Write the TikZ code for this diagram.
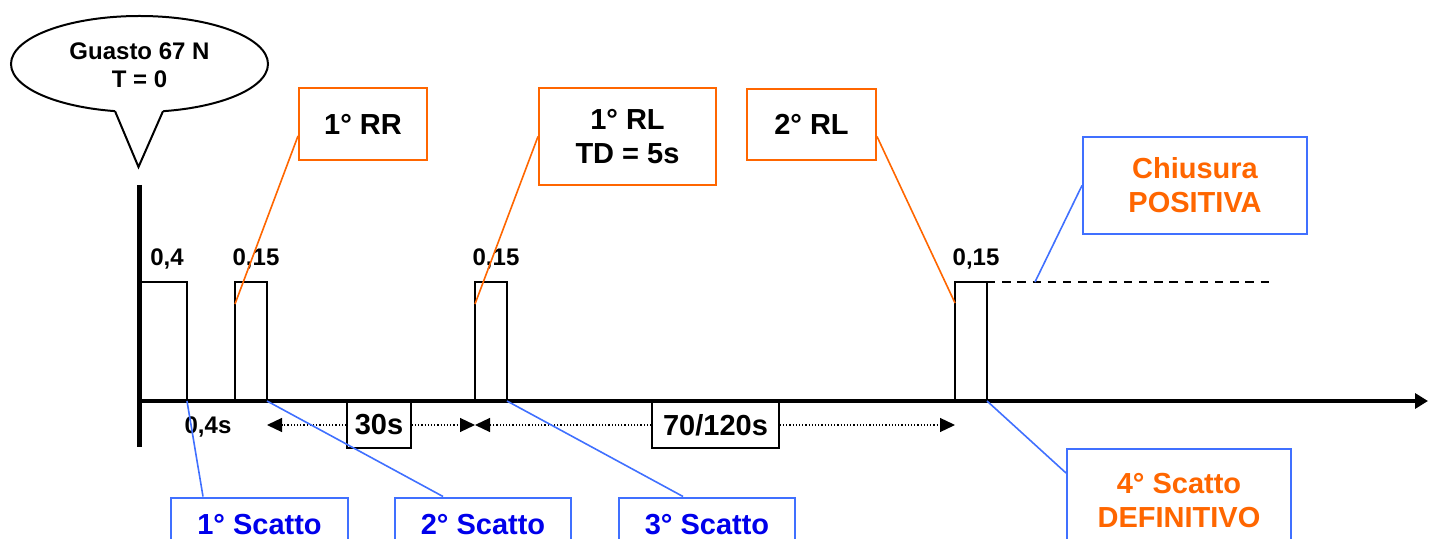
\documentclass[tikz,border=0pt]{standalone}
\usepackage{fontspec}
\setmainfont{Liberation Sans}
\usetikzlibrary{arrows.meta,calc}
\definecolor{callorange}{RGB}{255,102,0}
\definecolor{callblue}{RGB}{64,112,255}
\definecolor{textblue}{RGB}{0,0,235}
\begin{document}
\begin{tikzpicture}[x=0.5pt,y=-0.5pt,
  big/.style={font=\fontsize{14.5}{17}\selectfont\bfseries},
  small/.style={font=\fontsize{12}{14}\selectfont\bfseries},
  obox/.style={draw=callorange,line width=1pt,big,align=center,inner sep=0pt},
  bbox/.style={draw=callblue,line width=1pt,big,align=center,inner sep=0pt},
  olink/.style={draw=callorange,line width=0.8pt},
  blink/.style={draw=callblue,line width=0.8pt},
  pulse/.style={line width=1pt,line join=miter},
  dimline/.style={densely dotted,line width=0.6pt,-{Triangle[length=7.5pt,width=7pt]}},
  dimbox/.style={draw,line width=0.75pt,fill=white,big,minimum height=23pt,inner sep=0pt}]
\clip (0,0) rectangle (1429,539);

% speech bubble: fault at T = 0
\draw[line width=1pt,fill=white] (139.5,64) ellipse [x radius=128.5, y radius=48];
\fill[white] (115,111.1) -- (138.5,167) -- (163,111.2) -- (163,106) -- (115,106) -- cycle;
\draw[line width=1pt,line join=miter] (115,111.1) -- (138.5,167) -- (163,111.2);
\node[small,align=center] (fault) at (139.5,65.5) {Guasto 67 N\\T = 0};

% pulse corners used by the leader lines
\coordinate (p1r) at (187,401);
\coordinate (p2l) at (235,304);
\coordinate (p2r) at (267,401);
\coordinate (p3l) at (475,304);
\coordinate (p3r) at (507,401);
\coordinate (p4l) at (955,303);
\coordinate (p4r) at (987,401);
\coordinate (dashpt) at (1035,282);

% time intervals below the axis
\node[dimbox,minimum width=32pt] (d30) at (379,425) {30s};
\node[dimbox,minimum width=63.5pt] (d70) at (715.5,425) {70/120s};
\coordinate (a1) at (267,425);
\coordinate (a2) at (475,425);
\coordinate (a3) at (955,425);
\draw[dimline] (d30.west) -- (a1);
\draw[dimline] (d30.east) -- (a2);
\draw[dimline] (d70.west) -- (a2);
\draw[dimline] (d70.east) -- (a3);

% pulses
\draw[pulse] (139.5,282) -- (187,282) -- (187,401);
\draw[pulse] (235,401) -- (235,282) -- (267,282) -- (267,401);
\draw[pulse] (475,401) -- (475,282) -- (507,282) -- (507,401);
\draw[pulse] (955,401) -- (955,282) -- (987,282) -- (987,401);
\draw[line width=1pt,dash pattern=on 4.2pt off 3.4pt] (987,282) -- (1275,282);

% axes
\draw[line width=2.25pt] (139.5,185) -- (139.5,447);
\draw[line width=2.4pt,-{Triangle[length=6.5pt,width=7.5pt]}] (138,401) -- (1428,401);

% pulse durations
\node[small] (w1) at (167,259) {0,4};
\node[small] (w2) at (256,259) {0,15};
\node[small] (w3) at (496,259) {0,15};
\node[small] (w4) at (976,259) {0,15};
\node[small] (t1) at (208,427) {0,4s};

% reclosing callouts
\node[obox,minimum width=64pt,minimum height=36pt] (rr) at (363,124) {1° RR};
\node[obox,minimum width=88.5pt,minimum height=48.5pt] (rl1) at (627.5,136.5) {1° RL\\TD = 5s};
\node[obox,minimum width=64.5pt,minimum height=35.5pt] (rl2) at (811.5,124.5) {2° RL};
\draw[olink] ([yshift=-6pt]rr.west) -- (p2l);
\draw[olink] (rl1.west) -- (p3l);
\draw[olink] ([yshift=-6pt]rl2.east) -- (p4l);

% trip callouts
\node[bbox,text=textblue,minimum width=88.5pt,minimum height=27pt] (s1) at (259.5,524.5) {1° Scatto};
\node[bbox,text=textblue,minimum width=88pt,minimum height=27pt] (s2) at (483,524.5) {2° Scatto};
\node[bbox,text=textblue,minimum width=88pt,minimum height=27pt] (s3) at (707,524.5) {3° Scatto};
\node[bbox,text=callorange,minimum width=112pt,minimum height=52pt] (s4) at (1179,501) {4° Scatto\\DEFINITIVO};
\node[bbox,text=callorange,minimum width=112pt,minimum height=48.5pt] (close) at (1195,185.5) {Chiusura\\POSITIVA};
\draw[blink] (p1r) -- ([xshift=-28.25pt]s1.north);
\draw[blink] (p2r) -- ([xshift=-20pt]s2.north);
\draw[blink] (p3r) -- ([xshift=-12pt]s3.north);
\draw[blink] (p4r) -- ([yshift=14pt]s4.west);
\draw[blink] (dashpt) -- (close.west);
\end{tikzpicture}
\end{document}
